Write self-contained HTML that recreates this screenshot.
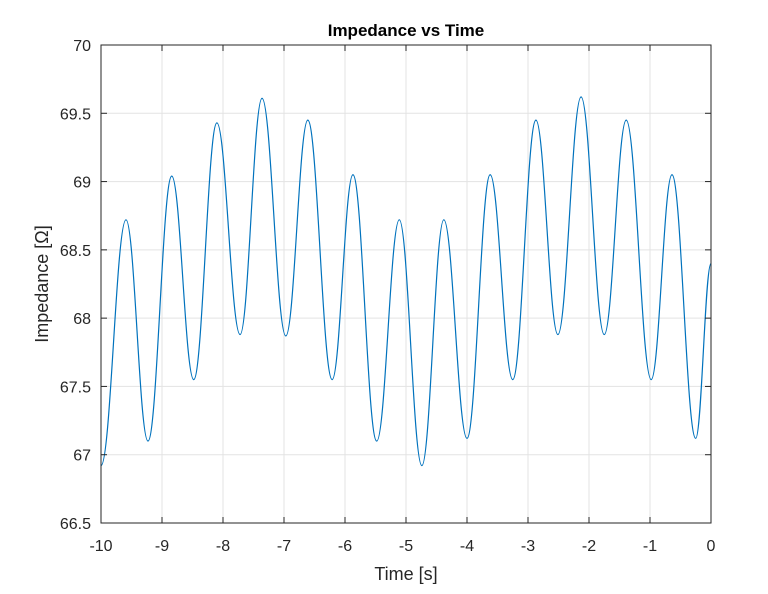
<!DOCTYPE html>
<html><head><meta charset="utf-8"><style>
body{margin:0;background:#fff;}
svg text{font-family:"Liberation Sans",Arial,sans-serif;fill:#262626;}
</style></head><body>
<svg width="768" height="589">
<g id="grid"></g>
<path id="line" fill="none" stroke="#0072BD" stroke-width="1.2"/>
<rect x="101" y="45" width="610" height="478" fill="none" stroke="#262626" stroke-width="1"/>
<g id="ticks"></g>
<text x="406" y="36" text-anchor="middle" font-size="17" font-weight="bold" style="fill:#000">Impedance vs Time</text>
<text x="406" y="580" text-anchor="middle" font-size="18">Time [s]</text>
<text transform="translate(48,284) rotate(-90)" text-anchor="middle" font-size="18">Impedance [Ω]</text>
</svg>
<script>
const times=[-10,-9.59,-9.23,-8.84,-8.48,-8.10,-7.72,-7.36,-6.97,-6.61,-6.21,-5.87,-5.48,-5.11,-4.74,-4.38,-4.0,-3.62,-3.25,-2.87,-2.51,-2.13,-1.75,-1.39,-0.98,-0.64,-0.25,0];
const values=[66.92,68.72,67.1,69.04,67.55,69.43,67.88,69.61,67.87,69.45,67.55,69.05,67.1,68.72,66.92,68.72,67.12,69.05,67.55,69.45,67.88,69.62,67.88,69.45,67.55,69.05,67.12,68.4];
const xTicks=[-10,-9,-8,-7,-6,-5,-4,-3,-2,-1,0];
const yTicks=[66.5,67,67.5,68,68.5,69,69.5,70];
const L=101,R=711,T=45,B=523;
const X=t=>L+(t+10)/10*(R-L);
const Y=v=>B-(v-66.5)/3.5*(B-T);
const ns="http://www.w3.org/2000/svg";
const grid=document.getElementById('grid'),ticks=document.getElementById('ticks');
function mk(tag,attrs,parent){const e=document.createElementNS(ns,tag);for(const k in attrs)e.setAttribute(k,attrs[k]);parent.appendChild(e);return e;}
xTicks.forEach(t=>{const x=X(t);
 const g=mk('line',{x1:x,x2:x,y1:T,y2:B,stroke:'#e3e3e3'},grid);
 
 
 mk('line',{x1:x,x2:x,y1:B,y2:B-6,stroke:'#262626'},ticks);
 mk('line',{x1:x,x2:x,y1:T,y2:T+6,stroke:'#262626'},ticks);
 const tx=mk('text',{x:x,y:B+28,'text-anchor':'middle','font-size':'16'},ticks);tx.textContent=t;
 
 
});
yTicks.forEach(v=>{const y=Y(v);
 const g=mk('line',{x1:L,x2:R,y1:y,y2:y,stroke:'#e3e3e3'},grid);
 
 
 mk('line',{x1:L,x2:L+6,y1:y,y2:y,stroke:'#262626'},ticks);
 mk('line',{x1:R,x2:R-6,y1:y,y2:y,stroke:'#262626'},ticks);
 const tx=mk('text',{x:L-10,y:y+6,'text-anchor':'end','font-size':'16'},ticks);tx.textContent=v;
 
 
});
let d='M'+X(times[0])+','+Y(values[0]);
for(let i=1;i<times.length;i++){
 const x0=X(times[i-1]),y0=Y(values[i-1]),x1=X(times[i]),y1=Y(values[i]);
 const dx=(x1-x0)/2.6;
 d+=` C${x0+dx},${y0} ${x1-dx},${y1} ${x1},${y1}`;
}
document.getElementById('line').setAttribute('d',d);
</script>
</body></html>
